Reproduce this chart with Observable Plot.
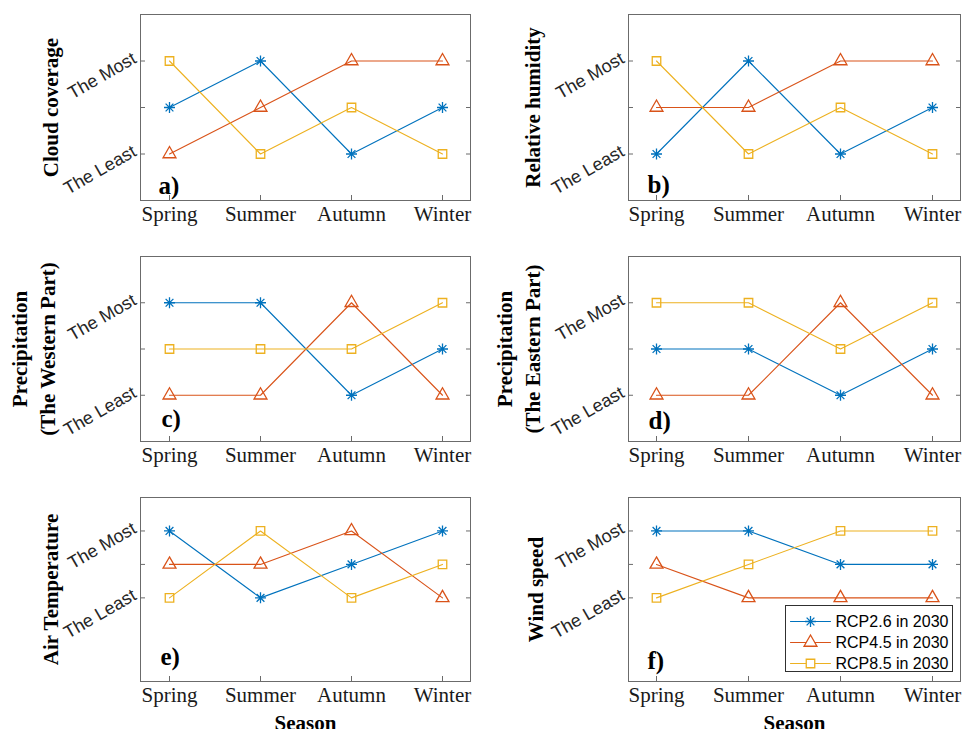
<!DOCTYPE html>
<html><head><meta charset="utf-8">
<script src="https://cdn.jsdelivr.net/npm/d3@7"></script>
<script src="https://cdn.jsdelivr.net/npm/@observablehq/plot@0.6"></script>
<style>
html,body{margin:0;padding:0;background:#fff;overflow:hidden;}
#fig{position:relative;width:962px;height:729px;overflow:hidden;background:#fff;}
.panel{position:absolute;}
.legend{position:absolute;left:785px;top:605px;width:168px;height:67px;border:1px solid #303030;background:#fff;box-sizing:border-box;}
</style></head><body><div id="fig"></div>
<script>
// ---- data ----
const seasons = ["Spring", "Summer", "Autumn", "Winter"];
const series = ["RCP2.6 in 2030", "RCP4.5 in 2030", "RCP8.5 in 2030"];
const seriesColors = ["#0072BD", "#D95319", "#EDB120"];
const rankTicks = [1, 2, 3];
const rankLabels = [{v: 3, label: "The Most"}, {v: 1, label: "The Least"}];
const panelTitles = ["Cloud coverage", "Relative humidity", "Precipitation\n(The Western Part)",
  "Precipitation\n(The Eastern Part)", "Air Temperature", "Wind speed"];
const panelTags = ["a)", "b)", "c)", "d)", "e)", "f)"];
const xTitle = "Season";

// rank per season (1 = The Least, 3 = The Most), rows: RCP2.6, RCP4.5, RCP8.5
const cloudCoverage    = [[2, 3, 1, 2], [1, 2, 3, 3], [3, 1, 2, 1]];
const relativeHumidity = [[1, 3, 1, 2], [2, 2, 3, 3], [3, 1, 2, 1]];
const precipWestern    = [[3, 3, 1, 2], [1, 1, 3, 1], [2, 2, 2, 3]];
const precipEastern    = [[2, 2, 1, 2], [1, 1, 3, 1], [3, 3, 2, 3]];
const airTemperature   = [[3, 1, 2, 3], [2, 2, 3, 1], [1, 3, 1, 2]];
const windSpeed        = [[3, 3, 2, 2], [2, 1, 1, 1], [1, 2, 3, 3]];
const panelValues = [cloudCoverage, relativeHumidity, precipWestern, precipEastern, airTemperature, windSpeed];

// ---- styling / layout ----
const asterisk8 = {
  draw(ctx, size) {
    const r = Math.sqrt(size / Math.PI), d = r * Math.SQRT1_2;
    ctx.moveTo(-r, 0); ctx.lineTo(r, 0);
    ctx.moveTo(0, -r); ctx.lineTo(0, r);
    ctx.moveTo(-d, -d); ctx.lineTo(d, d);
    ctx.moveTo(-d, d); ctx.lineTo(d, -d);
  }
};
const markers = [{symbol: asterisk8, r: 5.5}, {symbol: "triangle", r: 4.8}, {symbol: "square", r: 4.8}];
const axisColor = "#6b6b6b";
const serif = "'Liberation Serif', 'Times New Roman', serif";
const sans = "'Liberation Sans', Arial, sans-serif";

const layout = [
  {left: 0,   top: 0,   width: 480, height: 240, mt: 14, mb: 40, ml: 140, mr: 10, yd: [0, 4],    tdx: 18, tdy: -7,  ldx: -83},
  {left: 480, top: 0,   width: 482, height: 240, mt: 14, mb: 40, ml: 148, mr: 2,  yd: [0, 4],    tdx: 19, tdy: -8,  ldx: -89},
  {left: 0,   top: 240, width: 480, height: 240, mt: 16, mb: 39, ml: 140, mr: 10, yd: [0, 4],    tdx: 21, tdy: -15, ldx: -86},
  {left: 480, top: 240, width: 482, height: 240, mt: 16, mb: 39, ml: 148, mr: 2,  yd: [0, 4],    tdx: 20, tdy: -13, ldx: -89},
  {left: 0,   top: 480, width: 480, height: 249, mt: 17, mb: 48, ml: 140, mr: 10, yd: [-1.5, 4], tdx: 20, tdy: -17, ldx: -83},
  {left: 480, top: 480, width: 482, height: 249, mt: 17, mb: 48, ml: 148, mr: 2,  yd: [-1.5, 4], tdx: 19, tdy: -13, ldx: -86}
];

const fig = document.getElementById("fig");

layout.forEach((L, p) => {
  const vals = panelValues[p];
  const marks = [Plot.frame({stroke: axisColor, strokeWidth: 1})];
  // inward ticks
  marks.push(Plot.axisX({tickSize: -5, tickFormat: () => "", stroke: axisColor, label: null}));
  marks.push(Plot.axisY({ticks: rankTicks, anchor: "left", tickSize: -5, tickFormat: () => "", stroke: axisColor, label: null}));
  marks.push(Plot.axisY({ticks: rankTicks, anchor: "right", tickSize: -5, tickFormat: () => "", stroke: axisColor, label: null}));
  // x tick labels
  marks.push(Plot.axisX({tickSize: 0, tickPadding: 6, fontSize: 21, fontFamily: serif, fill: "#1a1a1a", label: null}));
  // y tick labels (rotated)
  marks.push(Plot.text(rankLabels, {y: "v", text: "label", frameAnchor: "left", dx: -3, dy: 1, rotate: -30,
    textAnchor: "end", lineAnchor: "bottom", fontFamily: sans, fontSize: 18, fill: "#262626"}));
  // series
  series.forEach((s, i) => {
    const rows = seasons.map((season, j) => ({season, v: vals[i][j]}));
    marks.push(Plot.line(rows, {x: "season", y: "v", stroke: seriesColors[i], strokeWidth: 1.1}));
    marks.push(Plot.dot(rows, {x: "season", y: "v", stroke: seriesColors[i], fill: "none", strokeWidth: 1.3,
      symbol: markers[i].symbol, r: markers[i].r}));
  });
  // panel tag
  marks.push(Plot.text([panelTags[p]], {text: d => d, frameAnchor: "bottom-left", dx: L.tdx, dy: L.tdy,
    textAnchor: "start", lineAnchor: "bottom", fontFamily: serif, fontWeight: "bold", fontSize: 25, fill: "#000"}));
  // y title
  marks.push(Plot.text([panelTitles[p]], {text: d => d, frameAnchor: "left", dx: L.ldx, rotate: -90,
    textAnchor: "middle", lineAnchor: "bottom", lineHeight: 1.33, fontFamily: serif, fontWeight: "bold", fontSize: 21, fill: "#000"}));
  // x title for bottom row
  if (p >= 4) {
    marks.push(Plot.text([xTitle], {text: d => d, frameAnchor: "bottom", dy: 48, lineAnchor: "bottom",
      fontFamily: serif, fontWeight: "bold", fontSize: 21, fill: "#000"}));
  }
  const chart = Plot.plot({
    width: L.width, height: L.height,
    marginTop: L.mt, marginBottom: L.mb, marginLeft: L.ml, marginRight: L.mr,
    x: {type: "point", domain: seasons, padding: 0.3},
    y: {domain: L.yd},
    style: {fontFamily: serif, fontSize: "21px", background: "transparent", overflow: "visible", color: "#1a1a1a"},
    marks
  });
  chart.classList.add("panel");
  chart.style.left = L.left + "px";
  chart.style.top = L.top + "px";
  fig.appendChild(chart);
});

// ---- legend (inside panel f) ----
const legendKeys = ["start", "marker", "end"];
const legendMarks = [];
series.forEach((s, i) => {
  legendMarks.push(Plot.line([{s, k: "start"}, {s, k: "end"}], {x: "k", y: "s", stroke: seriesColors[i], strokeWidth: 1.1}));
  legendMarks.push(Plot.dot([{s, k: "marker"}], {x: "k", y: "s", stroke: seriesColors[i], fill: "white", strokeWidth: 1.3,
    symbol: markers[i].symbol, r: markers[i].r}));
});
legendMarks.push(Plot.text(series.map(s => ({s, k: "end"})), {x: "k", y: "s", text: "s", dx: 5, textAnchor: "start",
  lineAnchor: "middle", fontFamily: sans, fontSize: 16, fill: "#000"}));
const legend = Plot.plot({
  width: 166, height: 65,
  marginTop: 15, marginBottom: 8, marginLeft: 4, marginRight: 122,
  x: {type: "point", domain: legendKeys, padding: 0, axis: null},
  y: {type: "point", domain: series, padding: 0, axis: null},
  style: {background: "white", overflow: "visible"},
  marks: legendMarks
});
const box = document.createElement("div");
box.className = "legend";
box.appendChild(legend);
fig.appendChild(box);
</script></body></html>
